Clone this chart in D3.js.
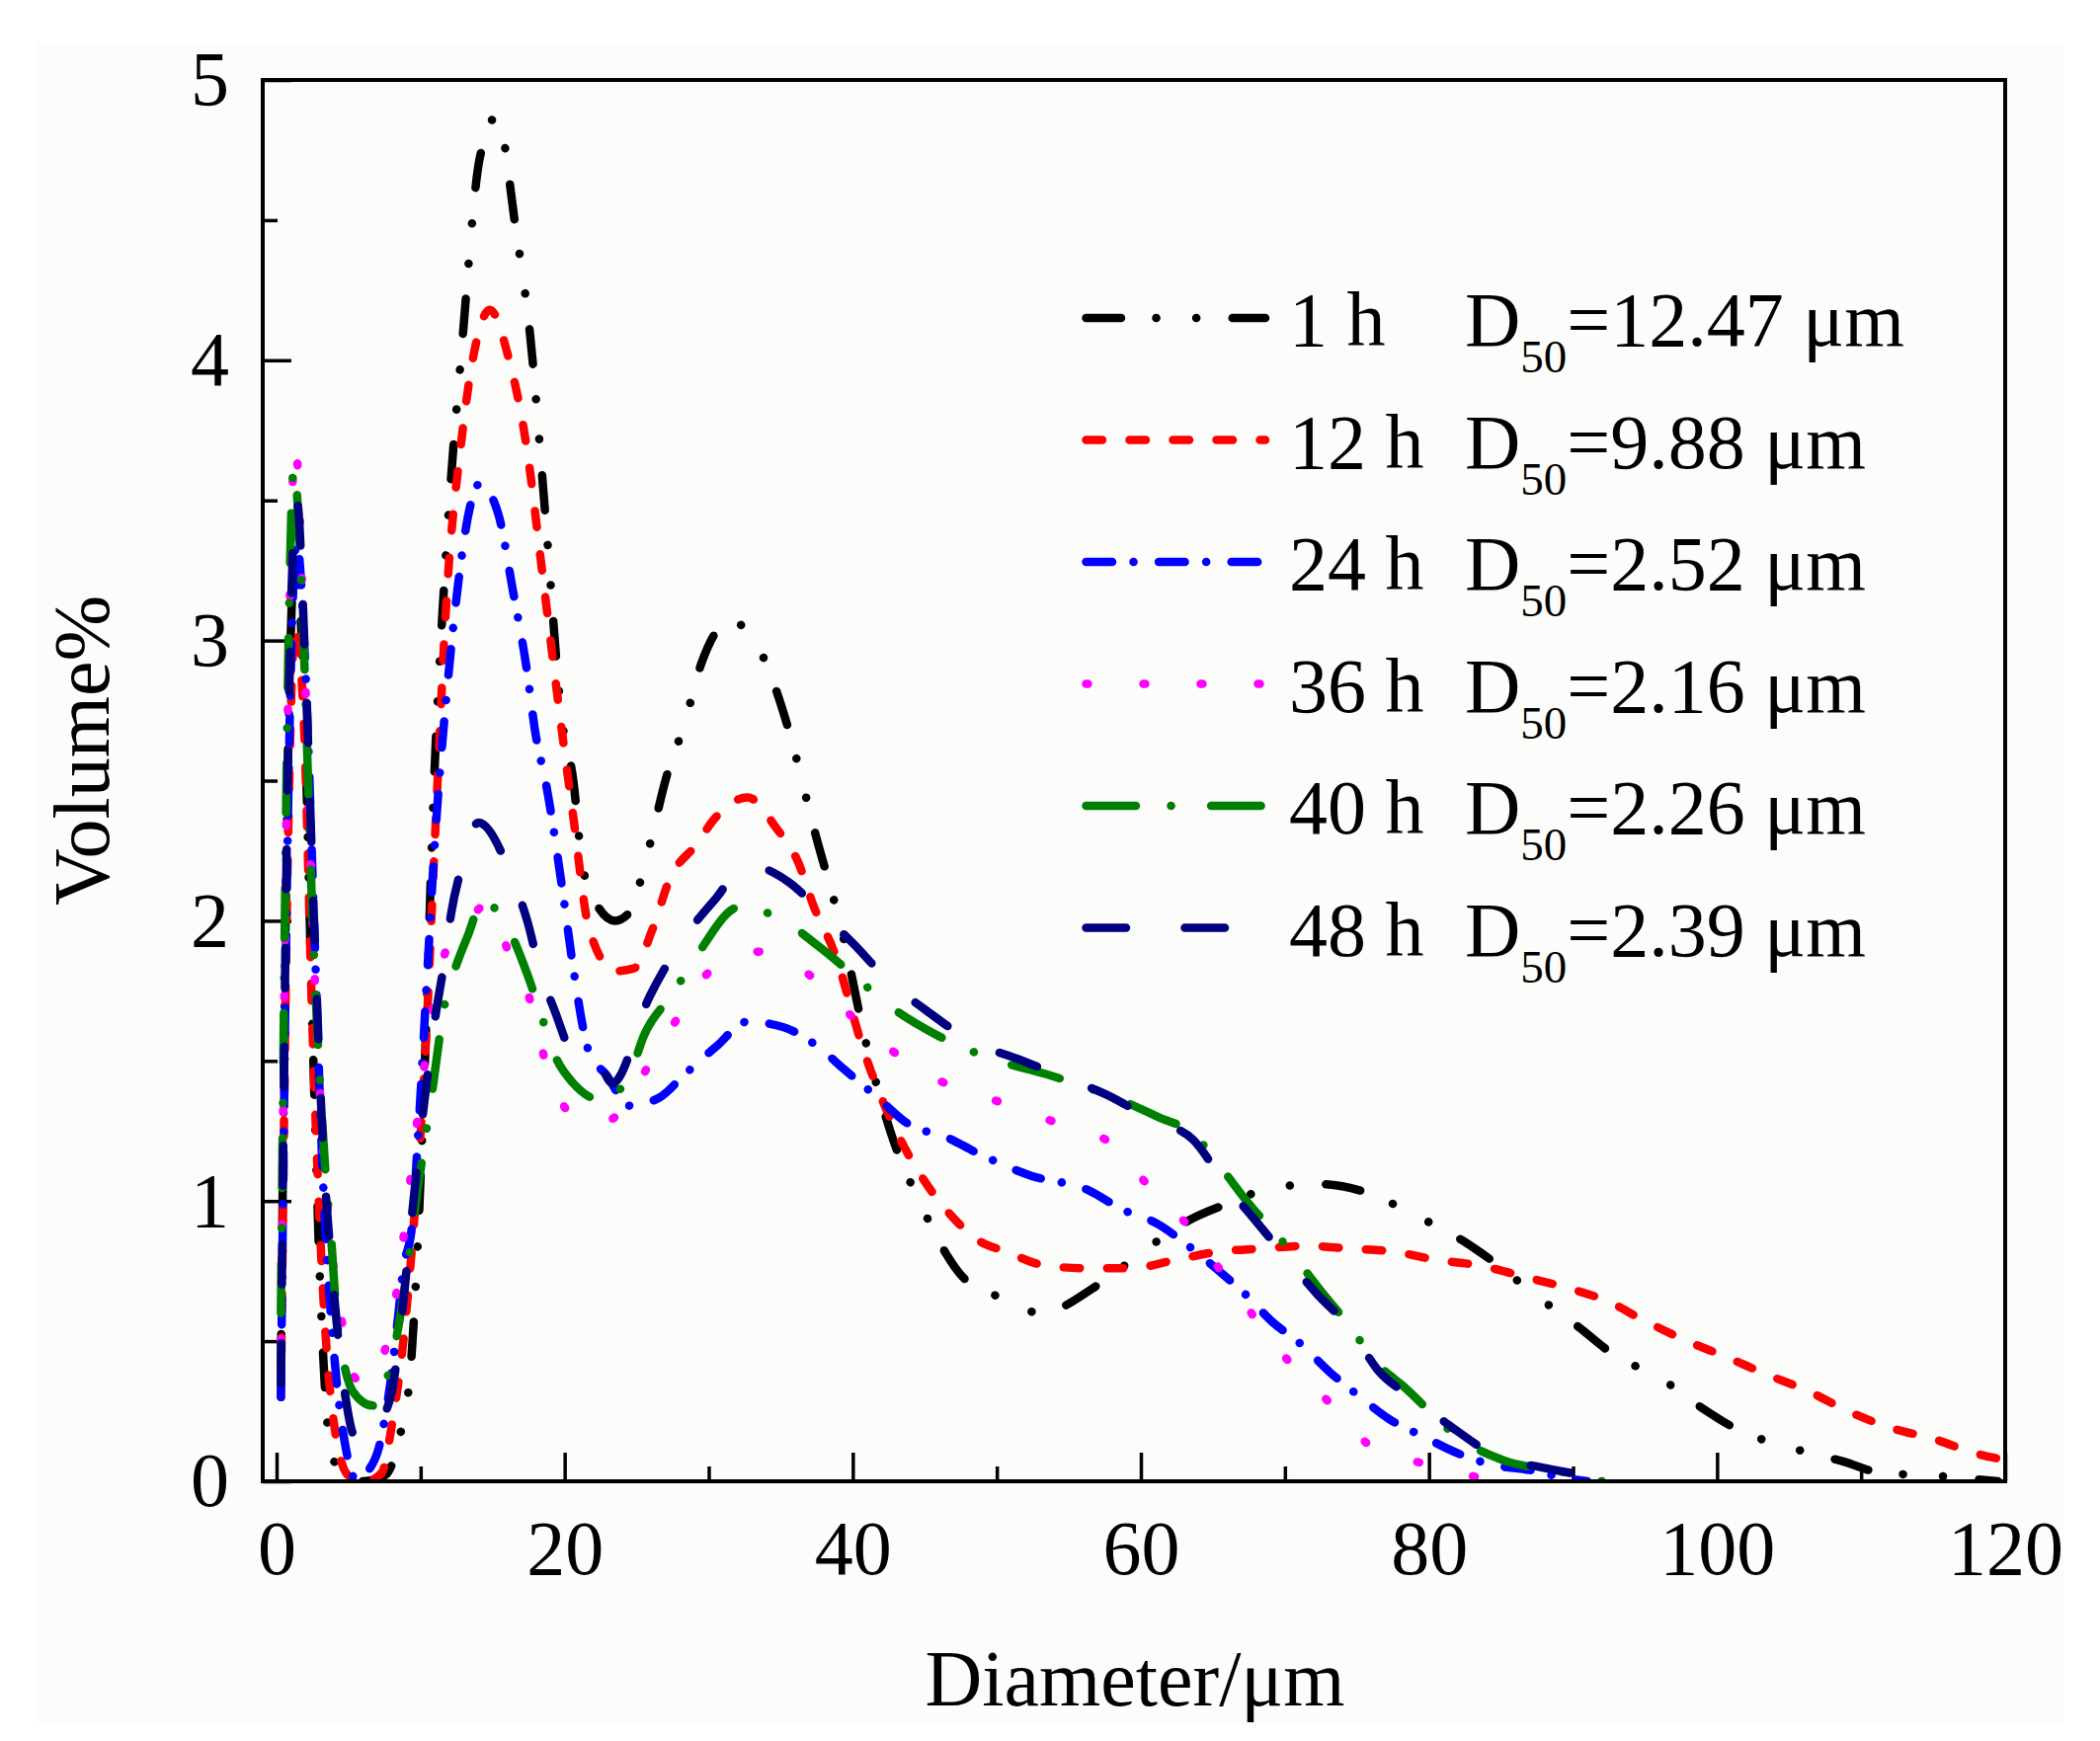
<!DOCTYPE html>
<html>
<head>
<meta charset="utf-8">
<script src="https://cdn.jsdelivr.net/npm/d3@7"></script>
<style>
  html, body { margin: 0; padding: 0; background: #ffffff; }
  svg { display: block; }
  text { font-family: "Liberation Serif", "Times New Roman", serif; fill: #000; }
</style>
</head>
<body>
<svg id="chart" width="2126" height="1763"></svg>
<script>
// ---------------- DATA ----------------
const seriesNames = ["1 h", "12 h", "24 h", "36 h", "40 h", "48 h"];
const d50Values = ["12.47", "9.88", "2.52", "2.16", "2.26", "2.39"];
const xTickValues = [0, 20, 40, 60, 80, 100, 120];
const yTickValues = [0, 1, 2, 3, 4, 5];

const diam1h = [0.3, 0.8, 1.3, 1.9, 2.5, 3.1, 3.8, 4.6, 6.0, 7.5, 8.5, 9.3, 9.8, 10.3, 10.9, 11.7, 12.9, 14.1, 15.3, 16.6, 17.6, 18.7, 19.8, 20.6, 21.2, 22.0, 23.5, 24.5, 25.7, 27.1, 28.3, 29.5, 31.5, 33.6, 35.5, 37.3, 39.4, 40.8, 42.6, 44.7, 47.8, 50.6, 53.0, 57.0, 60.4, 63.3, 66.0, 69.4, 72.5, 75.7, 79.0, 82.3, 84.3, 87.5, 90.4, 92.6, 96.3, 99.0, 101.6, 105.1, 108.8, 111.4, 115.1, 119.5];
const vol1h  = [0.4, 2.6, 3.3, 2.8, 1.6, 0.6, 0.1, 0.03, 0.0, 0.02, 0.15, 0.4, 0.85, 1.5, 2.45, 3.26, 4.07, 4.72, 4.87, 4.47, 4.09, 3.42, 2.72, 2.5, 2.21, 2.08, 2.0, 2.03, 2.23, 2.52, 2.70, 2.92, 3.07, 2.96, 2.69, 2.33, 1.93, 1.59, 1.25, 0.99, 0.72, 0.65, 0.60, 0.70, 0.83, 0.93, 0.99, 1.05, 1.06, 1.03, 0.95, 0.86, 0.79, 0.66, 0.55, 0.46, 0.36, 0.26, 0.18, 0.12, 0.07, 0.03, 0.02, 0.0];

const diam12h = [0.3, 0.8, 1.3, 1.9, 2.5, 3.2, 4.0, 5.0, 6.2, 7.3, 8.0, 8.8, 9.5, 10.3, 11.0, 11.8, 12.8, 13.8, 14.8, 16.1, 17.3, 18.5, 19.6, 20.6, 21.7, 23.5, 24.8, 26.1, 27.3, 29.1, 30.5, 32.7, 34.7, 36.2, 37.3, 38.7, 40.8, 43.4, 45.0, 46.8, 48.7, 50.6, 53.4, 56.3, 59.3, 62.4, 65.5, 68.3, 71.5, 74.5, 77.5, 80.5, 83.5, 86.6, 89.6, 92.5, 94.7, 97.5, 100.8, 103.5, 106.4, 109.1, 112.1, 115.1, 117.9, 119.6];
const vol12h  = [0.3, 2.3, 3.05, 2.7, 1.6, 0.7, 0.2, 0.02, 0.0, 0.03, 0.2, 0.5, 0.9, 1.5, 2.3, 3.15, 3.7, 4.05, 4.18, 4.01, 3.71, 3.22, 2.76, 2.37, 1.97, 1.82, 1.83, 1.97, 2.15, 2.27, 2.37, 2.44, 2.33, 2.21, 2.05, 1.89, 1.53, 1.21, 1.07, 0.95, 0.86, 0.82, 0.77, 0.76, 0.76, 0.79, 0.82, 0.83, 0.84, 0.83, 0.82, 0.79, 0.77, 0.73, 0.69, 0.64, 0.58, 0.51, 0.44, 0.38, 0.32, 0.25, 0.19, 0.15, 0.10, 0.08];

const diam24h = [0.3, 0.8, 1.4, 2.0, 2.6, 3.2, 4.0, 4.8, 5.6, 6.4, 7.1, 7.5, 8.0, 8.4, 8.8, 9.4, 9.9, 10.5, 11.0, 11.9, 12.6, 13.4, 14.1, 15.4, 16.4, 17.3, 18.0, 18.7, 19.9, 20.6, 21.7, 22.9, 24.5, 26.6, 28.3, 30.5, 32.7, 35.2, 37.6, 39.4, 41.7, 44.0, 46.4, 48.7, 52.4, 56.3, 58.7, 61.1, 63.3, 65.2, 67.2, 69.1, 71.1, 73.1, 75.0, 77.3, 79.6, 82.0, 84.3, 87.0, 89.6, 91.0];
const vol24h  = [0.3, 2.4, 3.35, 2.9, 2.0, 1.1, 0.45, 0.12, 0.0, 0.04, 0.12, 0.22, 0.39, 0.57, 0.76, 0.91, 1.3, 1.85, 2.29, 2.86, 3.20, 3.47, 3.56, 3.45, 3.18, 2.92, 2.66, 2.49, 2.09, 1.83, 1.53, 1.45, 1.34, 1.37, 1.45, 1.55, 1.64, 1.62, 1.55, 1.47, 1.37, 1.27, 1.23, 1.17, 1.09, 1.04, 0.97, 0.92, 0.84, 0.76, 0.67, 0.57, 0.49, 0.39, 0.31, 0.22, 0.16, 0.10, 0.06, 0.04, 0.01, 0.0];

const diam36h = [0.3, 0.8, 1.3, 1.9, 2.5, 3.2, 3.9, 4.6, 5.3, 6.3, 7.3, 8.2, 9.0, 9.8, 10.6, 11.5, 12.5, 13.6, 14.6, 16.1, 17.7, 18.7, 20.6, 22.0, 23.5, 25.9, 27.8, 30.1, 33.6, 36.9, 39.7, 42.9, 46.4, 50.4, 54.1, 57.8, 60.6, 63.3, 65.7, 68.1, 70.4, 73.3, 76.1, 79.9, 83.7];
const vol36h  = [0.5, 2.8, 3.7, 3.0, 2.0, 1.22, 0.79, 0.55, 0.38, 0.34, 0.43, 0.63, 0.95, 1.3, 1.6, 1.85, 1.97, 2.02, 2.06, 1.89, 1.70, 1.49, 1.30, 1.27, 1.30, 1.49, 1.65, 1.82, 1.89, 1.81, 1.67, 1.53, 1.42, 1.35, 1.28, 1.21, 1.05, 0.91, 0.74, 0.57, 0.42, 0.27, 0.12, 0.06, 0.01];

const diam40h = [0.3, 0.8, 1.2, 1.8, 2.5, 3.4, 3.8, 4.2, 4.6, 5.3, 6.7, 7.8, 8.9, 9.8, 10.8, 11.7, 12.4, 13.3, 14.3, 16.0, 17.4, 18.2, 19.4, 20.6, 22.6, 24.5, 25.5, 27.5, 29.1, 32.2, 35.2, 37.6, 40.4, 42.2, 45.9, 50.1, 53.6, 58.6, 61.2, 63.6, 65.7, 67.5, 69.6, 72.8, 74.4, 76.4, 78.2, 82.5, 84.9, 89.6, 92.0];
const vol40h  = [0.6, 2.9, 3.62, 3.1, 2.0, 1.1, 0.86, 0.57, 0.44, 0.32, 0.27, 0.39, 0.69, 1.04, 1.39, 1.71, 1.83, 1.95, 2.07, 1.98, 1.81, 1.69, 1.51, 1.42, 1.36, 1.45, 1.59, 1.74, 1.87, 2.05, 2.00, 1.91, 1.79, 1.71, 1.59, 1.50, 1.45, 1.36, 1.30, 1.24, 1.11, 0.99, 0.87, 0.66, 0.56, 0.42, 0.34, 0.14, 0.08, 0.03, 0.0];

const diam48h = [0.3, 0.8, 1.4, 2.0, 2.6, 3.2, 3.9, 4.7, 5.5, 6.2, 7.0, 8.0, 8.5, 9.4, 10.2, 11.0, 11.7, 12.1, 12.9, 14.0, 16.3, 17.4, 18.3, 19.3, 20.6, 22.6, 23.3, 25.9, 28.3, 30.5, 32.6, 35.5, 38.0, 40.0, 42.6, 45.1, 48.6, 51.3, 54.7, 57.6, 60.8, 63.6, 66.0, 67.8, 70.2, 72.2, 74.6, 76.4, 79.1, 81.4, 85.1, 87.8, 91.9];
const vol48h  = [0.35, 2.6, 3.5, 2.9, 2.0, 1.22, 0.72, 0.33, 0.15, 0.14, 0.2, 0.32, 0.5, 0.95, 1.33, 1.65, 1.87, 2.02, 2.2, 2.35, 2.16, 2.00, 1.82, 1.68, 1.52, 1.47, 1.42, 1.73, 1.94, 2.08, 2.20, 2.14, 2.02, 1.92, 1.78, 1.68, 1.56, 1.51, 1.44, 1.38, 1.29, 1.22, 1.05, 0.94, 0.79, 0.67, 0.54, 0.40, 0.29, 0.20, 0.08, 0.05, 0.01];

const diamList = [diam1h, diam12h, diam24h, diam36h, diam40h, diam48h];
const volList  = [vol1h, vol12h, vol24h, vol36h, vol40h, vol48h];

// ---------------- STYLE ----------------
const colors = ["#000000", "#ff0000", "#0000ff", "#ff00ff", "#008000", "#000080"];
const dashes = ["35.5,35.5,0.1,40.5,0.1,36.5", "16.5,27.5", "26.5,21.5,0.1,25.5", "2,56", "50.5,35.5,0.1,40.5", "40.5,59.5"];
const lineW = 8.5;
const fontStack = '"Liberation Serif", "Times New Roman", serif';

// ---------------- LAYOUT ----------------
const svg = d3.select("#chart");
const frame = { left: 266, right: 2030, top: 81, bottom: 1500 };

// faint scanned background
svg.append("rect").attr("x", 37).attr("y", 44).attr("width", 2052).attr("height", 1702)
  .attr("fill", "#fcfcfb");

const x = d3.scaleLinear().domain([-0.96, 120]).range([frame.left, frame.right]);
const y = d3.scaleLinear().domain([0, 5]).range([frame.bottom, frame.top]);

svg.append("clipPath").attr("id", "plotclip").append("rect")
  .attr("x", frame.left).attr("y", frame.top)
  .attr("width", frame.right - frame.left).attr("height", frame.bottom - frame.top);

// axes (ticks inward)
const xMinor = d3.range(10, 120, 20);
const yMinor = d3.range(0.5, 5, 1);

const gx = svg.append("g").attr("transform", `translate(0,${frame.bottom})`)
  .call(d3.axisBottom(x).tickValues(xTickValues).tickSize(-29).tickPadding(39).tickFormat(d3.format("d")));
const gxm = svg.append("g").attr("transform", `translate(0,${frame.bottom})`)
  .call(d3.axisBottom(x).tickValues(xMinor).tickSize(-15).tickFormat(""));
const gy = svg.append("g").attr("transform", `translate(${frame.left},0)`)
  .call(d3.axisLeft(y).tickValues(yTickValues).tickSize(-29).tickPadding(34).tickFormat(d3.format("d")));
const gym = svg.append("g").attr("transform", `translate(${frame.left},0)`)
  .call(d3.axisLeft(y).tickValues(yMinor).tickSize(-15).tickFormat(""));

[gx, gxm, gy, gym].forEach(g => {
  g.select(".domain").remove();
  g.selectAll(".tick line").attr("stroke", "#000").attr("stroke-width", 3.5);
  g.selectAll(".tick text").attr("font-family", fontStack).attr("font-size", 78).attr("fill", "#000");
});

// series lines
const line = d3.line().x(d => x(d[0])).y(d => y(d[1])).curve(d3.curveMonotoneX);
const plot = svg.append("g").attr("clip-path", "url(#plotclip)");
diamList.forEach((xs, i) => {
  const pts = xs.map((d, j) => [d, volList[i][j]]);
  plot.append("path").datum(pts)
    .attr("d", line)
    .attr("fill", "none")
    .attr("stroke", colors[i])
    .attr("stroke-width", lineW)
    .attr("stroke-linecap", "round")
    .attr("stroke-linejoin", "round")
    .attr("stroke-dasharray", dashes[i]);
});

// frame
svg.append("rect").attr("x", frame.left).attr("y", frame.top)
  .attr("width", frame.right - frame.left).attr("height", frame.bottom - frame.top)
  .attr("fill", "none").attr("stroke", "#000").attr("stroke-width", 4);

// axis titles
svg.append("text").attr("x", 1149).attr("y", 1727).attr("text-anchor", "middle")
  .attr("font-size", 80).attr("font-family", fontStack).text("Diameter/μm");
svg.append("text").attr("transform", "translate(110,760) rotate(-90)").attr("text-anchor", "middle")
  .attr("font-size", 80).attr("font-family", fontStack).text("Volume%");

// legend
const legend = svg.append("g");
const legY0 = 322, legDy = 123.5;
seriesNames.forEach((name, i) => {
  const ly = legY0 + i * legDy;
  legend.append("line").attr("x1", 1099.5).attr("x2", 1281).attr("y1", ly).attr("y2", ly)
    .attr("stroke", colors[i]).attr("stroke-width", lineW)
    .attr("stroke-linecap", "round").attr("stroke-dasharray", dashes[i]);
  legend.append("text").attr("x", 1305).attr("y", ly + 28).attr("font-size", 78)
    .attr("font-family", fontStack).text(name);
  const t = legend.append("text").attr("x", 1483).attr("y", ly + 28).attr("font-size", 78)
    .attr("font-family", fontStack);
  t.append("tspan").text("D");
  t.append("tspan").attr("dy", 27).attr("font-size", 47).text("50");
  t.append("tspan").attr("dy", -27).text("=" + d50Values[i] + " μm");
});
</script>
</body>
</html>
